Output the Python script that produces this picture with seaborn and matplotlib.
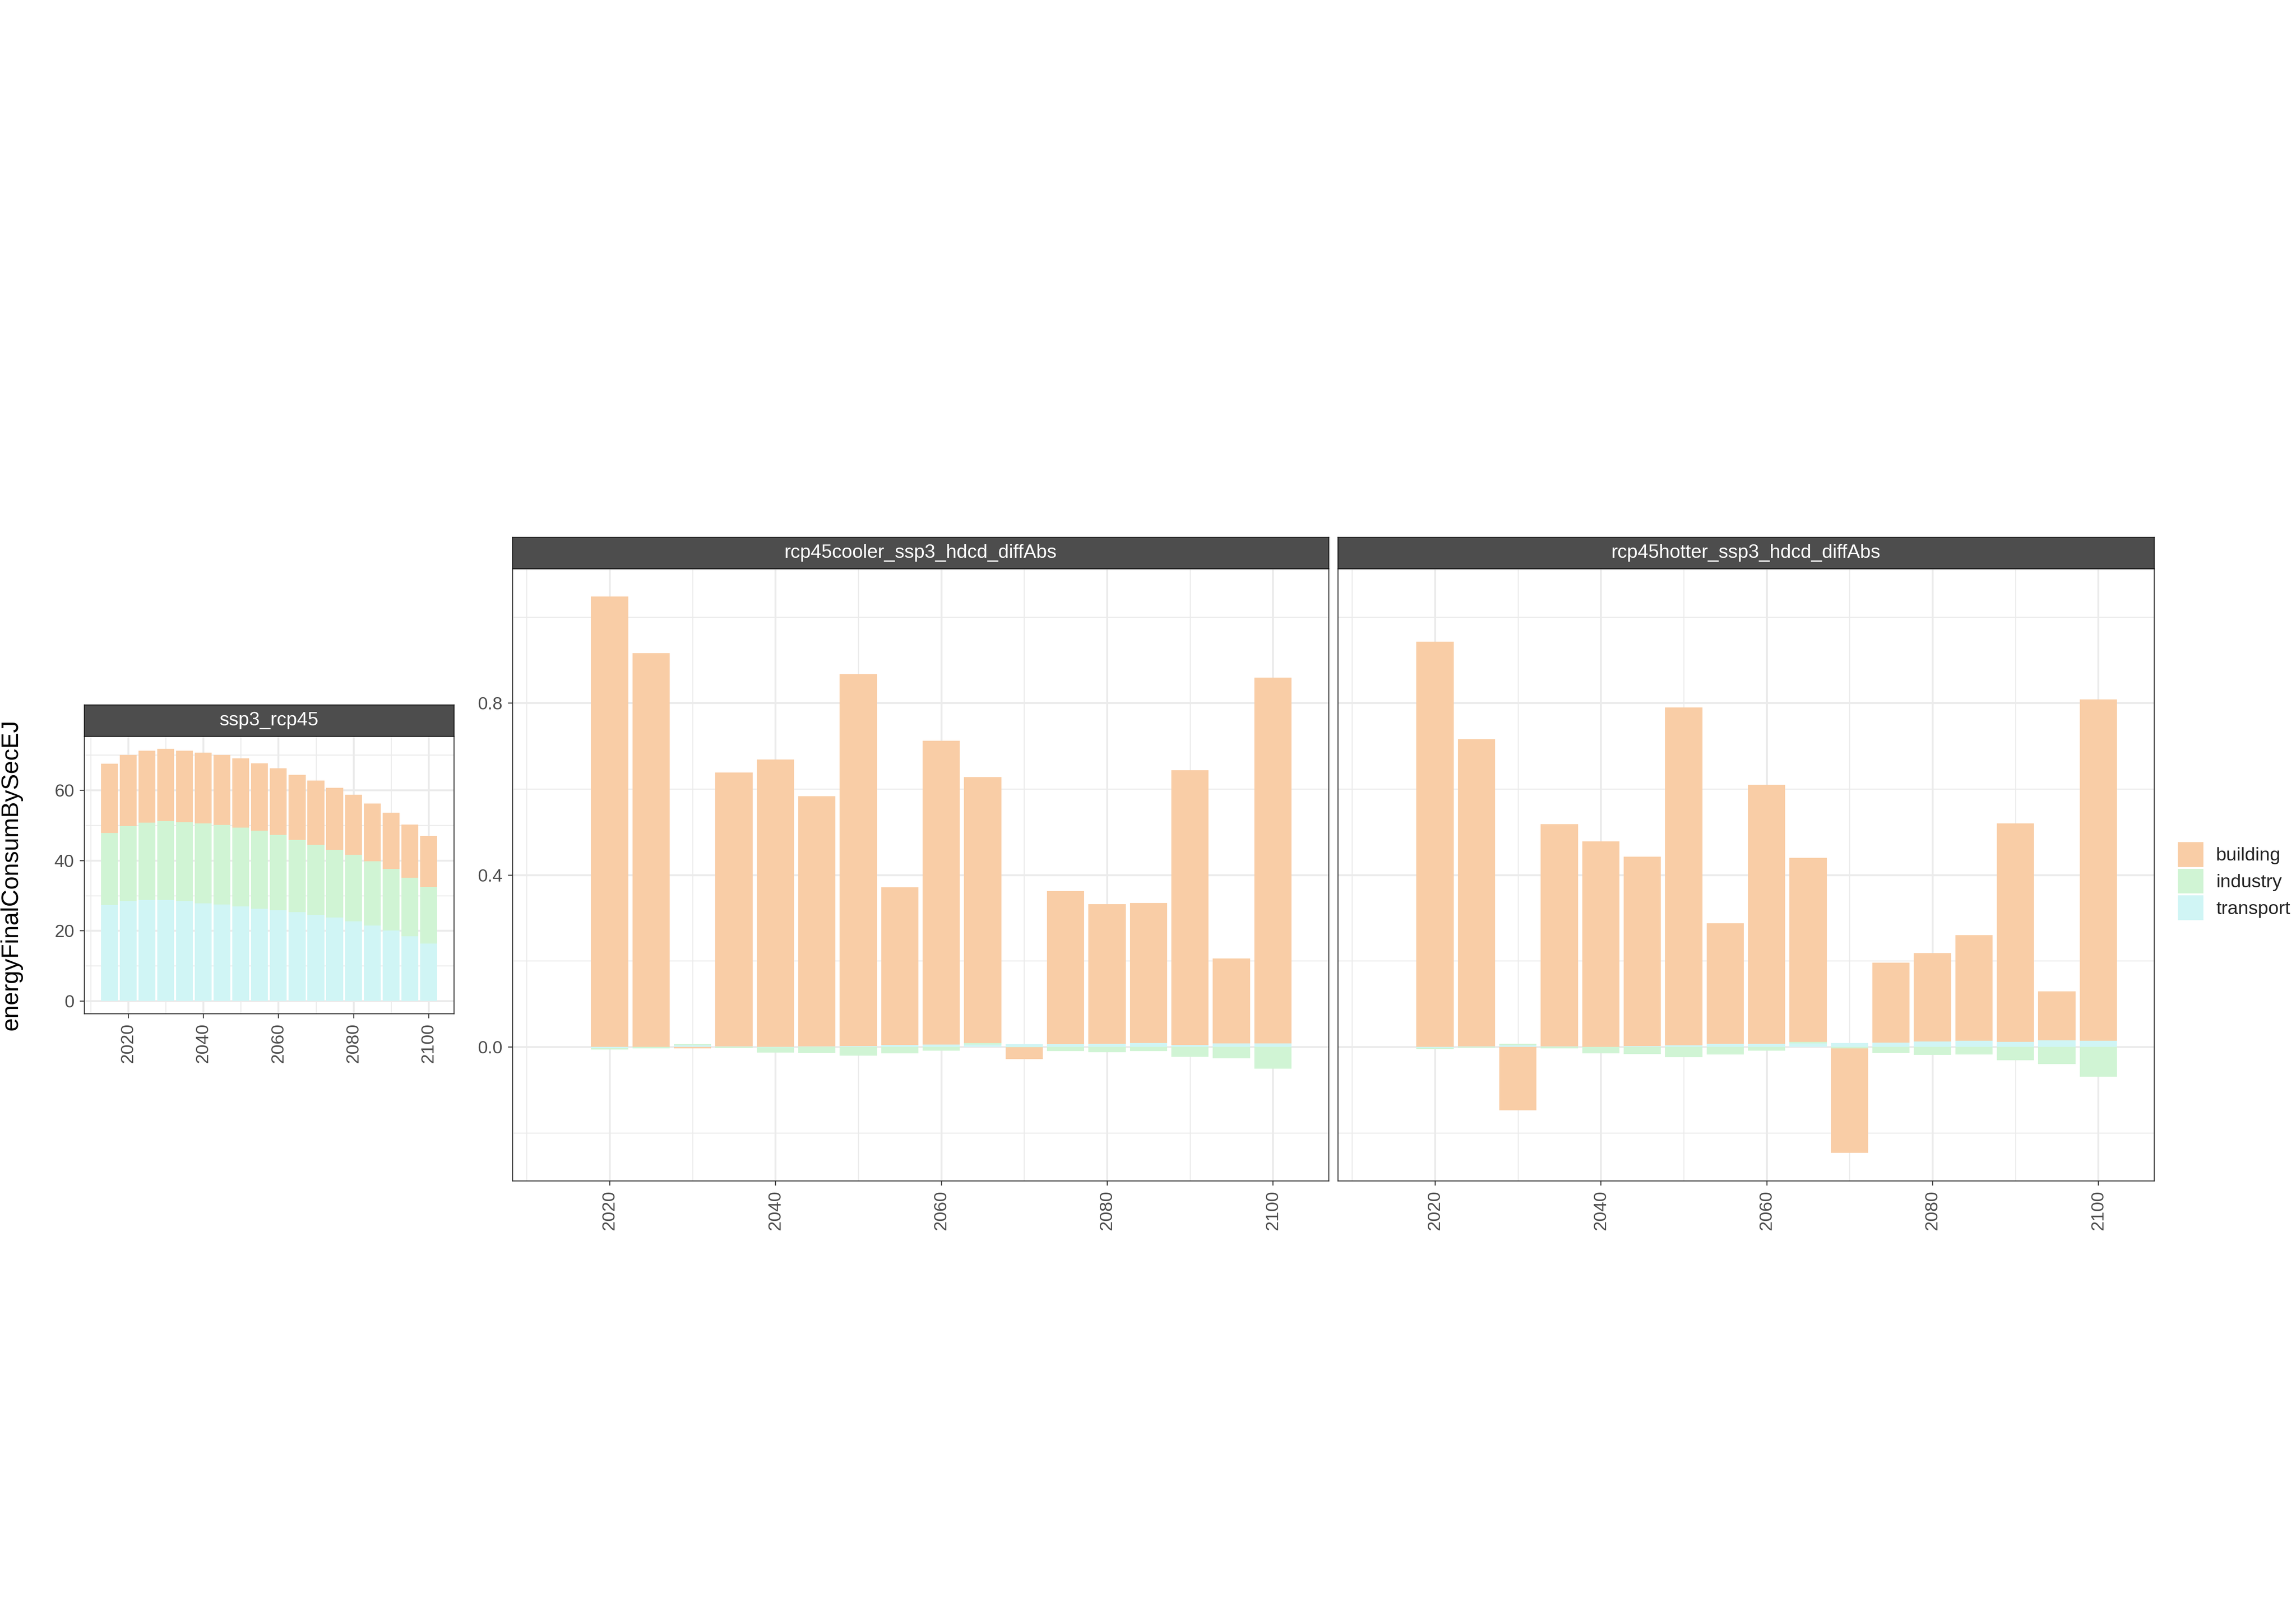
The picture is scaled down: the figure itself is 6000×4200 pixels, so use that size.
import numpy as np
import pandas as pd
import matplotlib
matplotlib.use("Agg")
import matplotlib.pyplot as plt
import seaborn as sns
from matplotlib.patches import Patch
from matplotlib.ticker import FixedLocator, FixedFormatter

# ---------------- data ----------------
years = [2015, 2020, 2025, 2030, 2035, 2040, 2045, 2050, 2055,
         2060, 2065, 2070, 2075, 2080, 2085, 2090, 2095, 2100]
sectors = ["building", "industry", "transport"]
sector_colors = ["#F9CDA6", "#D0F4D4", "#D0F5F5"]

panel_titles = ["ssp3_rcp45", "rcp45cooler_ssp3_hdcd_diffAbs", "rcp45hotter_ssp3_hdcd_diffAbs"]
y_title = "energyFinalConsumBySecEJ"

ssp3_building = [19.7, 20.2, 20.5, 20.6, 20.4, 20.1, 19.9, 19.7, 19.2,
                 18.9, 18.5, 18.2, 17.7, 17.1, 16.4, 16.0, 15.1, 14.5]
ssp3_industry = [20.4, 21.4, 22.0, 22.4, 22.5, 22.8, 22.6, 22.5, 22.2,
                 21.5, 20.6, 20.0, 19.3, 18.9, 18.3, 17.6, 16.7, 16.1]
ssp3_transport = [27.4, 28.4, 28.8, 28.8, 28.4, 27.8, 27.5, 26.9, 26.3,
                  25.8, 25.3, 24.5, 23.7, 22.7, 21.5, 20.0, 18.4, 16.4]

cooler_building = [0.0, 1.048, 0.916, -0.0036, 0.637, 0.669, 0.582, 0.865, 0.367,
                   0.707, 0.619, -0.0273, 0.356, 0.325, 0.326, 0.639, 0.198, 0.851]
cooler_industry = [0.0, -0.0036, -0.0036, 0.0027, -0.0027, -0.0125, -0.0142, -0.0201, -0.0151,
                   -0.0089, 0.0036, -0.0009, -0.0098, -0.0121, -0.0098, -0.0231, -0.0267, -0.0507]
cooler_transport = [0.0, -0.0027, 0.0, 0.0036, 0.0012, -0.0009, 0.0009, 0.0018, 0.0044,
                    0.0053, 0.0053, 0.0062, 0.0062, 0.0071, 0.0089, 0.0044, 0.008, 0.008]

hotter_building = [0.0, 0.9426, 0.715, -0.1478, 0.517, 0.478, 0.441, 0.786, 0.281,
                   0.603, 0.428, -0.243, 0.186, 0.206, 0.246, 0.508, 0.114, 0.794]
hotter_industry = [0.0, -0.0036, -0.0018, 0.0036, -0.0036, -0.0151, -0.0169, -0.024, -0.0178,
                   -0.0089, 0.0036, -0.0036, -0.0142, -0.0187, -0.0178, -0.0311, -0.04, -0.069]
hotter_transport = [0.0, -0.0018, 0.0009, 0.0036, 0.0009, 0.0, 0.0018, 0.0036, 0.0071,
                    0.0071, 0.008, 0.0089, 0.0098, 0.0124, 0.0142, 0.0116, 0.0151, 0.0142]

x_major = [2020, 2040, 2060, 2080, 2100]
x_minor = [2010, 2030, 2050, 2070, 2090]
left_y_major = [0, 20, 40, 60]
left_y_minor = [10, 30, 50, 70]
diff_y_major = [0.0, 0.4, 0.8]
diff_y_labels = ["0.0", "0.4", "0.8"]
diff_y_minor = [-0.2, 0.2, 0.6, 1.0]

# ---------------- style ----------------
sns.set_theme(style="white")
plt.rcParams["font.family"] = ["Liberation Sans", "DejaVu Sans"]

TICK_FS = 11.2
STRIP_FS = 12
GRID_C = "#EBEBEB"
BORDER_C = "#333333"

fig = plt.figure(figsize=(20, 14), dpi=300)
W, H = 6000.0, 4200.0


def add_axes_px(x0, y0, x1, y1):
    return fig.add_axes([x0 / W, 1 - y1 / H, (x1 - x0) / W, (y1 - y0) / H])


def stacked(ax, series):
    """series: dict sector -> values; stacked like ggplot position_stack."""
    n = len(years)
    pos = np.zeros(n)
    neg = np.zeros(n)
    order = ["transport", "industry", "building"]
    for sec in order:
        vals = np.asarray(series[sec], dtype=float)
        bottom = np.where(vals >= 0, pos, neg)
        df = pd.DataFrame({"year": years, "value": vals})
        sns.barplot(data=df, x="year", y="value", native_scale=True, width=0.9,
                    color=sector_colors[sectors.index(sec)], saturation=1,
                    errorbar=None, bottom=bottom, linewidth=0, edgecolor="none",
                    ax=ax, zorder=2)
        pos = np.where(vals >= 0, pos + vals, pos)
        neg = np.where(vals < 0, neg + vals, neg)
    return pos, neg


def style_axes(ax, ymaj, ymin, ylabels=None, show_y=True):
    ax.set_xlabel("")
    ax.set_ylabel("")
    ax.set_facecolor("white")
    ax.xaxis.set_major_locator(FixedLocator(x_major))
    ax.xaxis.set_minor_locator(FixedLocator(x_minor))
    ax.yaxis.set_major_locator(FixedLocator(ymaj))
    ax.yaxis.set_minor_locator(FixedLocator(ymin))
    if ylabels is not None:
        ax.yaxis.set_major_formatter(FixedFormatter(ylabels))
    ax.grid(True, which="major", color=GRID_C, linewidth=1.2, zorder=0)
    ax.grid(True, which="minor", color=GRID_C, linewidth=0.6, zorder=0)
    ax.set_axisbelow(True)
    for s in ax.spines.values():
        s.set_color(BORDER_C)
        s.set_linewidth(0.6)
        s.set_visible(True)
    ax.tick_params(axis="both", which="major", direction="out", length=2.8, width=0.6,
                   color=BORDER_C, labelcolor="#4D4D4D", labelsize=TICK_FS, pad=3.3,
                   bottom=True, left=show_y, labelleft=show_y)
    ax.tick_params(axis="both", which="minor", length=0)
    for lab in ax.get_xticklabels():
        lab.set_rotation(90)
        lab.set_va("top")
        lab.set_ha("center")


def add_strip(x0, x1, y0, y1, text):
    sax = add_axes_px(x0, y0, x1, y1)
    sax.set_facecolor("#4D4D4D")
    sax.set_xticks([])
    sax.set_yticks([])
    for s in sax.spines.values():
        s.set_color("#1A1A1A")
        s.set_linewidth(0.6)
    sax.text(0.5, 0.5, text, color="white", fontsize=STRIP_FS, ha="center",
             va="center", transform=sax.transAxes)


xlo = years[0] - 2.25
xhi = years[-1] + 2.25
xpad = 0.05 * (xhi - xlo)

# ---- left panel ----
ax1 = add_axes_px(219.6, 1924, 1186, 2649)
p1, n1 = stacked(ax1, {"building": ssp3_building, "industry": ssp3_industry,
                       "transport": ssp3_transport})
lo1, hi1 = min(n1.min(), 0), max(p1.max(), 0)
ax1.set_ylim(lo1 - 0.05 * (hi1 - lo1), hi1 + 0.05 * (hi1 - lo1))
ax1.set_xlim(xlo - xpad, xhi + xpad)
style_axes(ax1, left_y_major, left_y_minor)
add_strip(219.6, 1186, 1842, 1924, panel_titles[0])

# ---- diff panels ----
ax2 = add_axes_px(1339, 1486, 3472, 3086)
ax3 = add_axes_px(3496, 1486, 5629, 3086)
p2, n2 = stacked(ax2, {"building": cooler_building, "industry": cooler_industry,
                       "transport": cooler_transport})
p3, n3 = stacked(ax3, {"building": hotter_building, "industry": hotter_industry,
                       "transport": hotter_transport})
lo = min(n2.min(), n3.min(), 0)
hi = max(p2.max(), p3.max(), 0)
for ax in (ax2, ax3):
    ax.set_ylim(lo - 0.05 * (hi - lo), hi + 0.05 * (hi - lo))
    ax.set_xlim(xlo - xpad, xhi + xpad)
style_axes(ax2, diff_y_major, diff_y_minor, diff_y_labels)
style_axes(ax3, diff_y_major, diff_y_minor, diff_y_labels, show_y=False)
add_strip(1339, 3472, 1404, 1486, panel_titles[1])
add_strip(3496, 5629, 1404, 1486, panel_titles[2])

# ---- y title ----
fig.text(29 / W, 1 - 2287 / H, y_title, rotation=90, ha="center", va="center",
         fontsize=15, color="black")

# ---- legend ----
handles = [Patch(facecolor=c, edgecolor="none", linewidth=0, label=s)
           for s, c in zip(sectors, sector_colors)]
fig.legend(handles=handles, loc="center left", bbox_to_anchor=(5691 / W, 1 - 2303 / H),
           frameon=False, fontsize=11.8, handlelength=1.36, handleheight=1.65,
           labelspacing=0.1, handletextpad=0.68, borderpad=0, borderaxespad=0)

fig.savefig("out.png", dpi=300, facecolor="white")
